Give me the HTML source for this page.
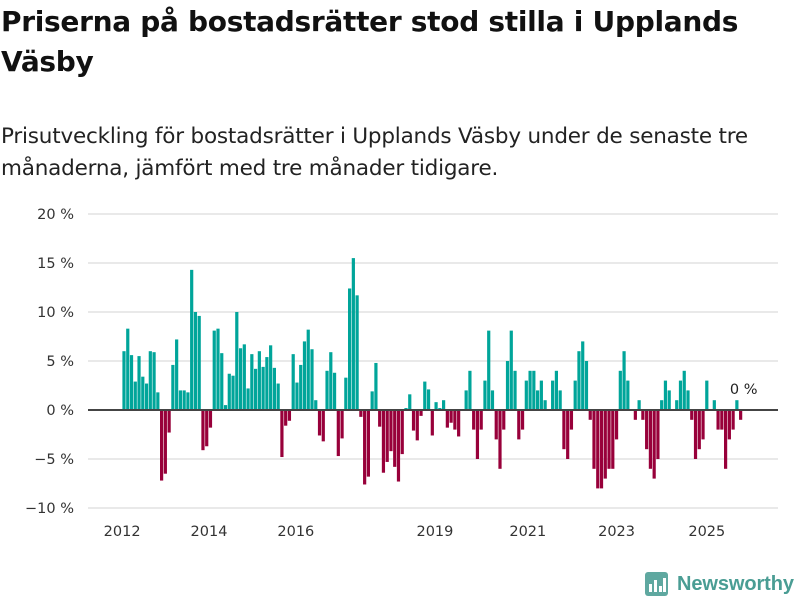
<!DOCTYPE html>
<html><head><meta charset="utf-8"><style>
body{margin:0;background:#fff;width:800px;height:600px;overflow:hidden;font-family:"DejaVu Sans",sans-serif;}
#t{position:absolute;left:1px;top:2px;font-family:"DejaVu Sans",sans-serif;font-size:28px;font-weight:bold;line-height:40px;color:#111;width:760px;letter-spacing:-0.3px}
#s{position:absolute;left:1px;top:121px;font-family:"DejaVu Sans",sans-serif;font-size:21.5px;line-height:32px;color:#222;width:785px;letter-spacing:-0.2px}
svg{position:absolute;left:0;top:0}
</style></head><body>
<div id="t">Priserna på bostadsrätter stod stilla i Upplands Väsby</div>
<div id="s">Prisutveckling för bostadsrätter i Upplands Väsby under de senaste tre månaderna, jämfört med tre månader tidigare.</div>
<svg id="c" width="800" height="600"></svg>
<script>
const values=[6.0,8.3,5.6,2.9,5.5,3.4,2.7,6.0,5.9,1.8,-7.2,-6.5,-2.3,4.6,7.2,2.0,2.0,1.8,14.3,10.0,9.6,-4.1,-3.7,-1.8,8.1,8.3,5.8,0.5,3.7,3.5,10.0,6.3,6.7,2.2,5.7,4.2,6.0,4.4,5.4,6.6,4.3,2.7,
-4.8,-1.6,-1.1,5.7,2.8,4.6,7.0,8.2,6.2,1.0,-2.6,-3.2,4.0,5.9,3.8,-4.7,-2.9,3.3,12.4,15.5,11.7,-0.7,-7.6,-6.8,1.9,4.8,-1.7,-6.4,-5.3,-4.2,-5.8,-7.3,-4.5,0.2,1.6,-2.1,-3.1,-0.6,2.9,2.1,-2.6,0.8,0.2,1.0,
-1.8,-1.3,-2.0,-2.7,0,2.0,4.0,-2.0,-5.0,-2.0,3.0,8.1,2.0,-3.0,-6.0,-2.0,5.0,8.1,4.0,-3.0,-2.0,3.0,4.0,4.0,2.0,3.0,1.0,0,3.0,4.0,2.0,-4.0,-5.0,-2.0,3.0,6.0,7.0,5.0,-1.0,-6.0,
-8,-8,-7,-6,-6,-3,4,6,3,0,-1,1,-1,-4,-6,-7,-5,1,3,2,0,1,3,4,2,-1,-5,-4,-3,3,0,1,-2,-2,-6,-3,-2,1,-1];
const yTicks=[20,15,10,5,0,-5,-10];
const yTickLabels=["20 %","15 %","10 %","5 %","0 %","−5 %","−10 %"];
const xTickYears=["2012","2014","2016","2019","2021","2023","2025"];
const xTickIndex=[-0.5,22.6,45.7,82.7,107.4,131,155];
const lastLabel="0 %";
const svg=document.getElementById('c'),NS='http://www.w3.org/2000/svg';
const F='DejaVu Sans, sans-serif';
const y=v=>410-v*9.8, x=i=>124+i*3.76;
function mk(t,a,p){const e=document.createElementNS(NS,t);for(const k in a)e.setAttribute(k,a[k]);(p||svg).appendChild(e);return e;}
yTicks.forEach((v,i)=>{
 const g=mk('line',{x1:88,x2:778,y1:y(v),y2:y(v),stroke:'#e2e2e2','stroke-width':1.5});
 
 
 const t=mk('text',{x:74,y:y(v)+5,'text-anchor':'end','font-size':14.5,fill:'#333','font-family':F});
 t.textContent=yTickLabels[i];
 
 
});
values.forEach((v,i)=>{
 if(v===0)return;
 const r=mk('rect',{x:x(i)-1.6,width:3.2,y:Math.min(y(v),y(0)),height:Math.abs(y(v)-y(0)),fill:v>0?'#00a59a':'#98003a'});
 
 
});
const z=mk('line',{x1:88,x2:778,y1:y(0),y2:y(0),stroke:'#444','stroke-width':2});


xTickYears.forEach((l,i)=>{
 const t=mk('text',{x:x(xTickIndex[i]),y:536,'text-anchor':'middle','font-size':14.5,fill:'#333','font-family':F});
 t.textContent=l;
 
 
});
const ll=mk('text',{x:x(values.length-2)-7,y:394,'font-size':14.5,fill:'#222','font-family':F});
ll.textContent=lastLabel;


</script>
<svg width="800" height="600" style="pointer-events:none">
<rect x="645" y="572" width="23" height="24" rx="3" fill="#5fa8a0"/>
<rect x="649" y="584" width="3" height="8" fill="#fff"/><rect x="654" y="580" width="3" height="12" fill="#fff"/><rect x="659" y="586" width="3" height="6" fill="#fff"/><rect x="663" y="578" width="3" height="14" fill="#fff"/>
<text x="677" y="590" font-size="20" font-weight="bold" fill="#4a9d94" font-family="Liberation Sans, sans-serif" textLength="117">Newsworthy</text>
</svg>
</body></html>
